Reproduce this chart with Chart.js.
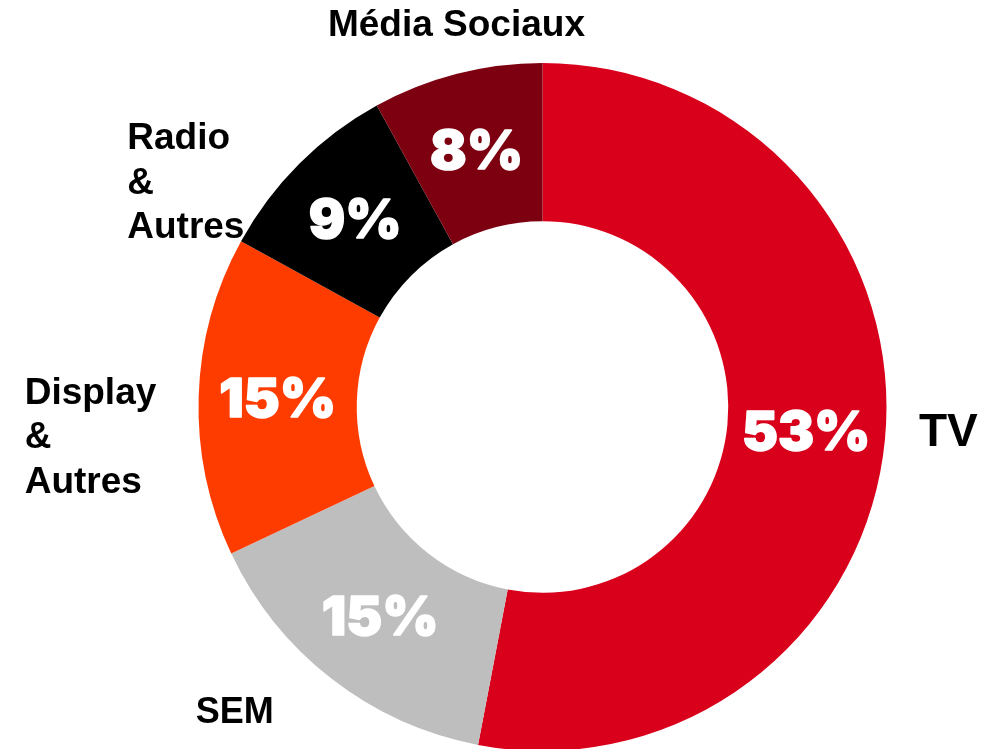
<!DOCTYPE html>
<html lang="fr">
<head>
<meta charset="utf-8">
<title>Répartition média</title>
<script src="https://cdn.jsdelivr.net/npm/chart.js@4.4.1/dist/chart.umd.min.js"></script>
<style>
  html, body { margin: 0; padding: 0; background: #fff; overflow: hidden; }
  #wrap { position: absolute; left: 0; top: 0; width: 1000px; height: 814px; }
</style>
</head>
<body>
<div id="wrap"><canvas id="mediaChart"></canvas></div>
<script>
const categories = ["TV", "SEM", "Display\n&\nAutres", "Radio\n&\nAutres", "Média Sociaux"];
const shares = [53, 15, 15, 9, 8];
const sliceColors = ["#d9001b", "#bebebe", "#ff3c00", "#000000", "#7d0010"];

// where each category name sits relative to the outer edge of its slice
const nameOffsets = [
  { dx: 34, dy: -6, size: 46 },
  { dx: -136, dy: 34, size: 36 },
  { dx: -174, dy: 42, size: 37 },
  { dx: -172, dy: 20, size: 37 },
  { dx: -129, dy: -48, size: 37 },
];

const sliceLabels = {
  id: "sliceLabels",
  afterDatasetsDraw(chart) {
    const ctx = chart.ctx;
    const arcs = chart.getDatasetMeta(0).data;
    arcs.forEach((arc, i) => {
      const { x, y, startAngle, endAngle, innerRadius, outerRadius } = arc.getProps(
        ["x", "y", "startAngle", "endAngle", "innerRadius", "outerRadius"], true);
      const mid = (startAngle + endAngle) / 2;

      // percentage inside the ring
      const rMid = (innerRadius + outerRadius) / 2;
      const px = x + Math.cos(mid) * rMid;
      const py = y + Math.sin(mid) * rMid + 2;
      ctx.save();
      ctx.fillStyle = "#ffffff";
      ctx.strokeStyle = "#ffffff";
      ctx.lineWidth = 1.5;
      ctx.lineJoin = "round";
      ctx.font = "900 54px Inter, Roboto, sans-serif";
      ctx.textAlign = "center";
      ctx.textBaseline = "middle";
      ctx.strokeText(shares[i] + "%", px, py);
      ctx.fillText(shares[i] + "%", px, py);

      // category name outside the ring
      const o = nameOffsets[i];
      const ax = x + Math.cos(mid) * outerRadius + o.dx;
      const ay = y + Math.sin(mid) * outerRadius + o.dy;
      const lines = categories[i].split("\n");
      const lh = 44.5;
      ctx.fillStyle = "#000000";
      ctx.font = "bold " + o.size + "px 'Liberation Sans', Arial, sans-serif";
      ctx.textAlign = "left";
      ctx.textBaseline = "middle";
      lines.forEach((line, k) => {
        ctx.fillText(line, ax, ay + (k - (lines.length - 1) / 2) * lh);
      });
      ctx.restore();
    });
  },
};

new Chart(document.getElementById("mediaChart"), {
  type: "doughnut",
  data: {
    labels: categories,
    datasets: [{
      data: shares,
      backgroundColor: sliceColors,
      borderWidth: 0,
    }],
  },
  options: {
    responsive: true,
    maintainAspectRatio: false,
    animation: false,
    cutout: "54%",
    layout: { padding: { left: 198, right: 113, top: 63, bottom: 63 } },
    plugins: {
      legend: { display: false },
      tooltip: { enabled: false },
    },
  },
  plugins: [sliceLabels],
});
</script>
</body>
</html>
